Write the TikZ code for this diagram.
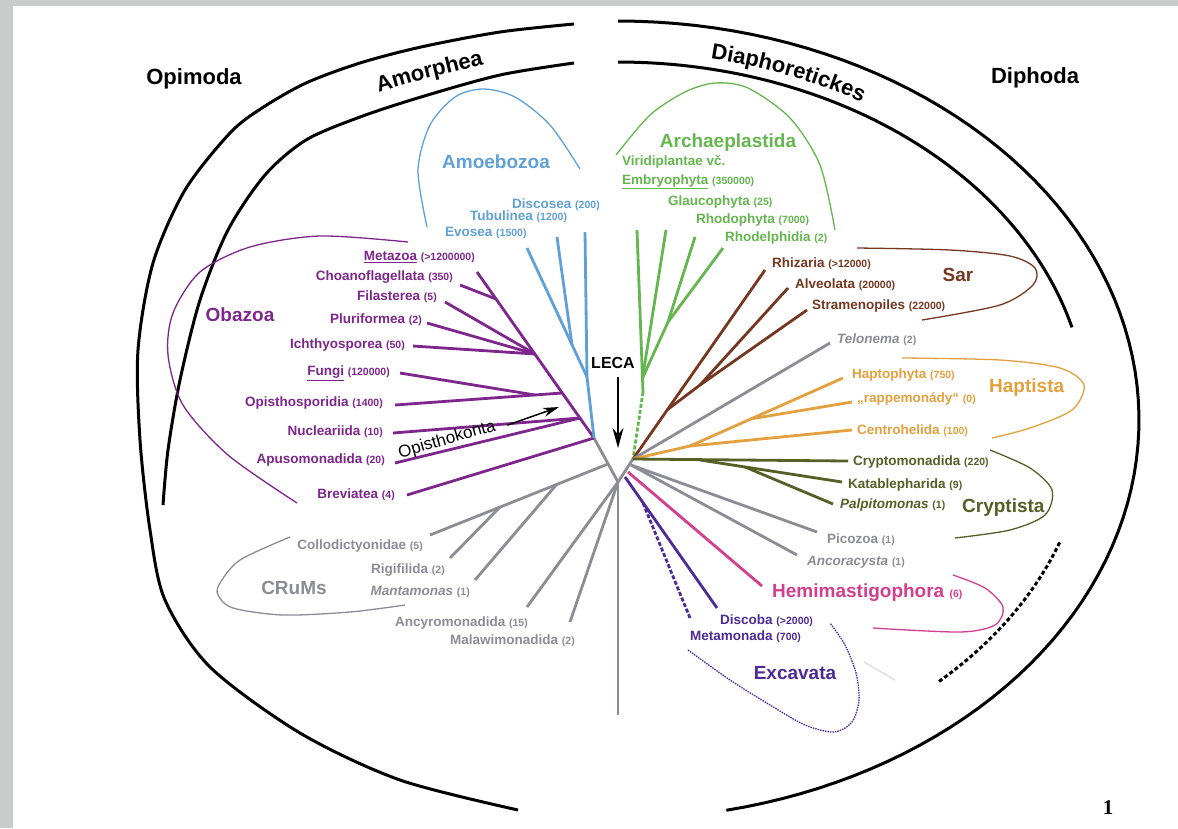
\documentclass[tikz,border=0pt]{standalone}
\usepackage{fontspec}
\setmainfont{Liberation Sans}
\newfontfamily\serifnum{Liberation Serif}
\usetikzlibrary{arrows.meta,positioning,decorations.text}
\definecolor{page}{RGB}{202,204,204}
\definecolor{obaz}{RGB}{125,38,140}
\definecolor{amoe}{RGB}{95,160,215}
\definecolor{arch}{RGB}{100,182,78}
\definecolor{sarc}{RGB}{118,55,32}
\definecolor{crum}{RGB}{140,140,150}
\definecolor{hapt}{RGB}{228,160,62}
\definecolor{cryp}{RGB}{85,95,38}
\definecolor{hemi}{RGB}{212,62,142}
\definecolor{exca}{RGB}{78,42,150}
\newcommand{\taxcount}[1]{{\fontsize{10.5}{11}\selectfont(#1)}}

\begin{document}
\begin{tikzpicture}[x=1pt,y=-1pt,
    br/.style={line width=2.8pt},
    clade/.style={line width=1.3pt},
    rim/.style={line width=3pt},
    lbl/.style={inner sep=0pt, font=\fontsize{13.5}{15}\selectfont\bfseries},
    grp/.style={inner sep=0pt, font=\fontsize{19}{21}\selectfont\bfseries},
    head/.style={inner sep=0pt, font=\fontsize{22}{24}\selectfont\bfseries},
    bend text/.style={decoration={text along path, text align=center,
        text={|\fontsize{22}{24}\selectfont\bfseries|#1}}, decorate}]
  \fill[page] (0,0) rectangle (1178,828);
  \fill[white] (13,6) rectangle (1178,828);

  % outer frame
  \draw[rim] plot[smooth] coordinates {(574,24) (500,32) (421,47) (360,63) (306,83) (262,108) (230,133) (185,190) (153,263) (138,350) (140,440) (150,530) (165,600) (210,667) (300,733) (400,780) (518,810)};
  \draw[rim] plot[smooth] coordinates {(574,63) (500,75) (421,97) (360,117) (306,140) (265,175) (228,230) (200,300) (180,380) (168,450) (163,505)};
  \draw[rim] plot[domain=90:-78,samples=80] ({618+521*cos(\x)},{420-399*sin(\x)});
  \draw[rim] plot[domain=90:15,samples=60] ({618+470*cos(\x)},{420-358*sin(\x)});
  \draw[rim, dash pattern=on 4pt off 2.5pt] plot[domain=-20:-47,samples=30] ({618+470*cos(\x)},{420-358*sin(\x)});

  \node[head] (opimoda) at (194,79) {Opimoda};
  \node[head] (diphoda) at (1035,78) {Diphoda};
  \path[bend text=Amorphea] plot[smooth] coordinates {(306,119) (360,98) (421,80) (500,61) (560,50)};
  \path[bend text=Diaphoretickes] plot[domain=97:40,samples=50] ({618+485*cos(\x)},{420-368*sin(\x)});

  % tree
  \coordinate (vtx) at (618,482);
  \coordinate (vL) at (594,438);
  \coordinate (vR) at (633,459);
  \coordinate (vB) at (618,715);
  \draw[br, crum] (vL) -- (vtx) -- (vR);
  \draw[br, crum] (vtx) -- (vB);

  % Obazoa
  \node[lbl, obaz, anchor=east] (metazoa) at (475,257) {\underline{Metazoa} \taxcount{>1200000}};
  \node[lbl, obaz, anchor=east] (choano) at (453,277) {Choanoflagellata \taxcount{350}};
  \node[lbl, obaz, anchor=east] (filast) at (437,297) {Filasterea \taxcount{5}};
  \node[lbl, obaz, anchor=east] (plurif) at (422,320) {Pluriformea \taxcount{2}};
  \node[lbl, obaz, anchor=east] (ichthy) at (405,345) {Ichthyosporea \taxcount{50}};
  \node[lbl, obaz, anchor=east] (fungi) at (390,373) {\underline{Fungi} \taxcount{120000}};
  \node[lbl, obaz, anchor=east] (opisp) at (383,403) {Opisthosporidia \taxcount{1400}};
  \node[lbl, obaz, anchor=east] (nucle) at (383,432) {Nucleariida \taxcount{10}};
  \node[lbl, obaz, anchor=east] (apuso) at (385,460) {Apusomonadida \taxcount{20}};
  \node[lbl, obaz, anchor=east] (brevi) at (395,495) {Breviatea \taxcount{4}};
  \node[grp, obaz] (obazoa) at (240,315) {Obazoa};
  \coordinate (tMeta) at (477,272);
  \coordinate (tChoa) at (460,285);
  \coordinate (tFila) at (445,302);
  \coordinate (tPlur) at (427,323);
  \coordinate (tIcht) at (413,346);
  \coordinate (tFung) at (400,373);
  \coordinate (tOpsp) at (395,405);
  \coordinate (tNucl) at (393,433);
  \coordinate (tApus) at (395,463);
  \coordinate (tBrev) at (407,495);
  \coordinate (jChoa) at (496,299);
  \coordinate (jIcht) at (535,354);
  \coordinate (jOpsp) at (562,393);
  \coordinate (jFung) at (535,395);
  \coordinate (jNucl) at (580,418);
  \draw[br, obaz] (tMeta) -- (vL);
  \draw[br, obaz] (tChoa) -- (jChoa);
  \draw[br, obaz] (tFila) -- (jIcht);
  \draw[br, obaz] (tPlur) -- (jIcht);
  \draw[br, obaz] (tIcht) -- (jIcht);
  \draw[br, obaz] (tFung) -- (jFung);
  \draw[br, obaz] (tOpsp) -- (jOpsp);
  \draw[br, obaz] (tNucl) -- (jNucl);
  \draw[br, obaz] (tApus) -- (jNucl);
  \draw[br, obaz] (tBrev) -- (vL);
  \draw[clade, obaz] plot[smooth] coordinates {(408,242) (320,236) (250,247) (200,272) (173,313) (168,355) (183,405) (228,455) (297,503)};

  % Amoebozoa
  \node[lbl, amoe, anchor=west] (discos) at (512,205) {Discosea \taxcount{200}};
  \node[lbl, amoe, anchor=west] (tubul) at (470,217) {Tubulinea \taxcount{1200}};
  \node[lbl, amoe, anchor=west] (evos) at (445,233) {Evosea \taxcount{1500}};
  \node[grp, amoe] (amoebo) at (496,162) {Amoebozoa};
  \coordinate (tEvos) at (527,248);
  \coordinate (tTubu) at (557,237);
  \coordinate (tDisc) at (585,232);
  \coordinate (jAmoe) at (587,377);
  \coordinate (jTubu) at (572,345);
  \draw[br, amoe] (tEvos) -- (jAmoe);
  \draw[br, amoe] (tTubu) -- (jTubu);
  \draw[br, amoe] (tDisc) -- (jAmoe) -- (vL);
  \draw[clade, amoe] plot[smooth] coordinates {(427,227) (418,170) (430,125) (455,97) (483,89) (515,97) (550,125) (580,169)};

  % Archaeplastida
  \node[lbl, arch, anchor=west] (viridi) at (622,162) {Viridiplantae vč.};
  \node[lbl, arch, anchor=west] (embryo) at (622,182) {\underline{Embryophyta} \taxcount{350000}};
  \node[lbl, arch, anchor=west] (glauco) at (668,202) {Glaucophyta \taxcount{25}};
  \node[lbl, arch, anchor=west] (rhodo) at (696,220) {Rhodophyta \taxcount{7000}};
  \node[lbl, arch, anchor=west] (rhodel) at (725,238) {Rhodelphidia \taxcount{2}};
  \node[grp, arch] (archae) at (728,143) {Archaeplastida};
  \coordinate (tViri) at (637,230);
  \coordinate (tGlau) at (666,230);
  \coordinate (tRhod) at (695,237);
  \coordinate (tRhdl) at (723,248);
  \coordinate (jRhod) at (668,322);
  \coordinate (jGlau) at (642.5,378);
  \coordinate (jArch) at (643,392);
  \draw[br, arch] (tViri) -- (jArch);
  \draw[br, arch] (tGlau) -- (jGlau);
  \draw[br, arch] (tRhod) -- (jRhod);
  \draw[br, arch] (tRhdl) -- (jRhod) -- (jGlau);
  \draw[br, arch, dash pattern=on 4pt off 2pt] (jArch) -- (vR);
  \draw[clade, arch] plot[smooth] coordinates {(616,155) (650,115) (685,92) (715,83) (748,88) (790,118) (820,165) (835,230)};

  % Sar
  \node[lbl, sarc, anchor=west] (rhiza) at (772,264) {Rhizaria \taxcount{>12000}};
  \node[lbl, sarc, anchor=west] (alveo) at (795,285) {Alveolata \taxcount{20000}};
  \node[lbl, sarc, anchor=west] (strame) at (812,306) {Stramenopiles \taxcount{22000}};
  \node[grp, sarc] (sar) at (958,275) {Sar};
  \coordinate (tRhiz) at (765,270);
  \coordinate (tAlve) at (788,288);
  \coordinate (tStra) at (807,310);
  \coordinate (jStra) at (700,385);
  \coordinate (jSar) at (667,410);
  \draw[br, sarc] (tRhiz) -- (vR);
  \draw[br, sarc] (tAlve) -- (jStra);
  \draw[br, sarc] (tStra) -- (jStra) -- (jSar);
  \draw[clade, sarc] plot[smooth] coordinates {(857,248) (950,250) (1010,256) (1035,268) (1033,285) (1000,305) (922,320)};

  % Telonema
  \node[lbl, crum, anchor=west] (telon) at (837,340) {\textit{Telonema} \taxcount{2}};
  \coordinate (tTelo) at (830,343);
  \draw[br, crum] (tTelo) -- (vR);

  % Haptista
  \node[lbl, hapt, anchor=west] (hapto) at (852,375) {Haptophyta \taxcount{750}};
  \node[lbl, hapt, anchor=west] (rappe) at (857,399) {„rappemonády“ \taxcount{0}};
  \node[lbl, hapt, anchor=west] (centro) at (857,431) {Centrohelida \taxcount{100}};
  \node[grp, hapt, anchor=west] (haptis) at (989,388) {Haptista};
  \coordinate (tHapt) at (843,378);
  \coordinate (tRapp) at (852,402);
  \coordinate (tCent) at (852,430);
  \coordinate (jRapp) at (750,419);
  \coordinate (jHapt) at (690,446);
  \draw[br, hapt] (tHapt) -- (jHapt);
  \draw[br, hapt] (tRapp) -- (jRapp);
  \draw[br, hapt] (tCent) -- (jHapt) -- (vR);
  \draw[clade, hapt] plot[smooth] coordinates {(902,358) (1000,360) (1060,368) (1084,385) (1072,410) (1030,428) (992,438)};

  % Cryptista
  \node[lbl, cryp, anchor=west] (crypto) at (853,462) {Cryptomonadida \taxcount{220}};
  \node[lbl, cryp, anchor=west] (katab) at (848,485) {Katablepharida \taxcount{9}};
  \node[lbl, cryp, anchor=west] (palpi) at (840,505) {\textit{Palpitomonas} \taxcount{1}};
  \node[grp, cryp, anchor=west] (cryptis) at (962,508) {Cryptista};
  \coordinate (tCryp) at (848,461);
  \coordinate (tKata) at (842,482);
  \coordinate (tPalp) at (833,504);
  \coordinate (jKata) at (700,460);
  \coordinate (jPalp) at (745,467);
  \draw[br, cryp] (tCryp) -- (vR);
  \draw[br, cryp] (tKata) -- (jKata);
  \draw[br, cryp] (tPalp) -- (jPalp);
  \draw[clade, cryp] plot[smooth] coordinates {(990,450) (1030,468) (1052,490) (1045,515) (1010,530) (955,538)};

  % Picozoa, Ancoracysta, Hemimastigophora
  \coordinate (vRa) at (631,465);
  \coordinate (vRb) at (628,472);
  \coordinate (vRc) at (625,477);
  \node[lbl, crum, anchor=west] (picoz) at (827,540) {Picozoa \taxcount{1}};
  \node[lbl, crum, anchor=west] (ancor) at (807,562) {\textit{Ancoracysta} \taxcount{1}};
  \node[grp, hemi, anchor=west] (hemim) at (772,593) {Hemimastigophora \taxcount{6}};
  \coordinate (tPico) at (817,532);
  \coordinate (tAnco) at (797,555);
  \coordinate (tHemi) at (762,586);
  \draw[br, crum] (tPico) -- (vRa);
  \draw[br, crum] (tAnco) -- (vRa);
  \draw[br, hemi] (tHemi) -- (vRb);
  \draw[clade, hemi] plot[smooth] coordinates {(953,575) (985,588) (1003,607) (995,625) (960,632) (873,628)};

  % Excavata
  \node[lbl, exca, anchor=west] (discob) at (720,621) {Discoba \taxcount{>2000}};
  \node[lbl, exca, anchor=west] (metam) at (690,637) {Metamonada \taxcount{700}};
  \node[grp, exca] (excav) at (795,673) {Excavata};
  \coordinate (tDisb) at (717,608);
  \coordinate (tMeta2) at (690,618);
  \coordinate (jMeta2) at (643,503);
  \draw[br, exca] (tDisb) -- (vRc);
  \draw[br, exca, dash pattern=on 4pt off 2pt] (tMeta2) -- (jMeta2);
  \draw[clade, exca, dash pattern=on 1.5pt off 1pt] plot[smooth] coordinates {(688,650) (730,680) (770,705) (805,725) (834,732) (852,722) (859,700) (856,673) (845,645) (830,623)};
  \draw[line width=1.5pt, black!12] (864,662) -- (895,680);

  % CRuMs and others
  \node[lbl, crum, anchor=east] (collod) at (423,546) {Collodictyonidae \taxcount{5}};
  \node[lbl, crum, anchor=east] (rigif) at (445,570) {Rigifilida \taxcount{2}};
  \node[lbl, crum, anchor=east] (manta) at (470,592) {\textit{Mantamonas} \taxcount{1}};
  \node[lbl, crum, anchor=east] (ancyro) at (528,623) {Ancyromonadida \taxcount{15}};
  \node[lbl, crum, anchor=east] (malawi) at (575,641) {Malawimonadida \taxcount{2}};
  \node[grp, crum] (crums) at (294,588) {CRuMs};
  \coordinate (tColl) at (430,535);
  \coordinate (tRigi) at (450,558);
  \coordinate (tMant) at (475,580);
  \coordinate (tAncy) at (527,607);
  \coordinate (tMala) at (570,622);
  \coordinate (jColl) at (608,464);
  \coordinate (jRigi) at (500,507);
  \coordinate (jMant) at (557,484);
  \draw[br, crum] (tColl) -- (jColl);
  \draw[br, crum] (tRigi) -- (jRigi);
  \draw[br, crum] (tMant) -- (jMant);
  \draw[br, crum] (tAncy) -- (vtx);
  \draw[br, crum] (tMala) -- (vtx);
  \draw[clade, crum] plot[smooth] coordinates {(290,537) (240,560) (220,583) (218,595) (233,608) (283,615) (350,612) (405,605)};

  % LECA and Opisthokonta
  \node[inner sep=0pt, font=\fontsize{16}{18}\selectfont\bfseries] (leca) at (613,363) {LECA};
  \coordinate (lecaTip) at (618,448);
  \draw[line width=1.5pt, -{Stealth[length=20pt,width=11pt]}] (leca.south -| lecaTip) ++(0,8) -- (lecaTip);
  \node[inner sep=0pt, rotate=16, font=\fontsize{17}{19}\selectfont] (opisk) at (447,440) {Opisthokonta};
  \coordinate (opiskTip) at (559,407);
  \draw[line width=1.5pt, -{Stealth[length=16pt,width=9pt]}] (opisk.east) ++(12,-1) -- (opiskTip);

  \node[inner sep=0pt, font=\serifnum\fontsize{21}{23}\selectfont\bfseries] (pgnum) at (1108,808) {1};
\end{tikzpicture}
\end{document}
